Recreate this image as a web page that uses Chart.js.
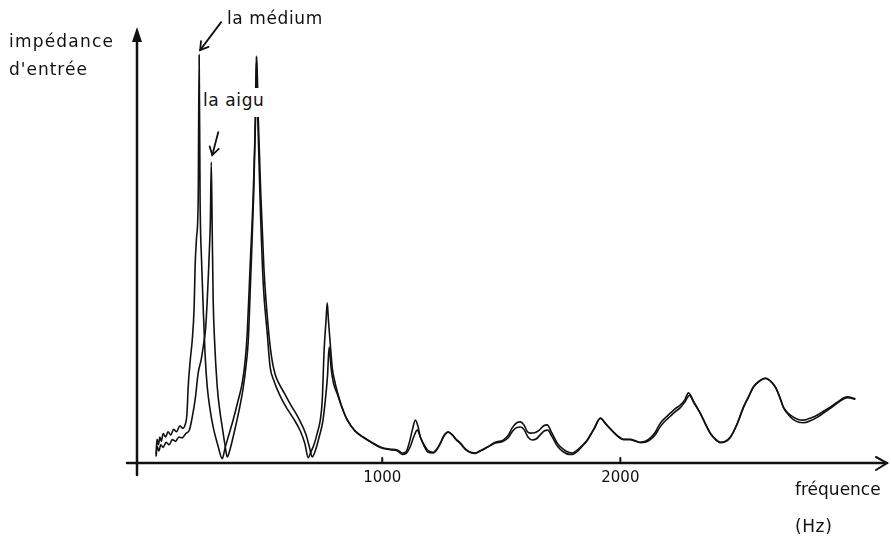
<!DOCTYPE html>
<html>
<head>
<meta charset="utf-8">
<script src="https://cdn.jsdelivr.net/npm/chart.js@4.4.1/dist/chart.umd.min.js"></script>
<style>
  html, body { margin: 0; padding: 0; background: #fff; }
  #wrap { position: relative; width: 891px; height: 540px; overflow: hidden; }
  canvas { position: absolute; left: 0; top: 0; }
  .lbl { position: absolute; font-family: "DejaVu Sans", sans-serif; font-size: 17px; letter-spacing: 0.6px; color: #111; white-space: nowrap; line-height: 1; }
</style>
</head>
<body>
<div id="wrap">
  <canvas id="c" width="891" height="540"></canvas>
  <div class="lbl" id="ytitle1" style="left:9px; top:33px; letter-spacing:1.2px;">impédance</div>
  <div class="lbl" id="ytitle2" style="left:9px; top:61px; letter-spacing:1px;">d'entrée</div>
  <div class="lbl" id="annMed" style="left:227px; top:10px;">la médium</div>
  <div class="lbl" id="annAigu" style="left:201px; top:88px; padding:4px 2px 8px 2px; background:#fff;">la aigu</div>
  <div class="lbl" id="xtitle1" style="left:795px; top:481px; letter-spacing:0px;">fréquence</div>
  <div class="lbl" id="xtitle2" style="left:795px; top:518px;">(Hz)</div>
</div>
<script>
// Frequencies (Hz) and input impedance (arbitrary units) for the two curves
const freqMedium = [50,54,60,66,72,80,90,100,112,124,136,150,162,172,180,185,194,202,210,214,220,227,231,235,241,248,256,265,278,290,310,328,340,353,374,395,412,425,433,445,458,467,471,477,487,500,517,529,545,559,580,601,630,655,675,689,700,715,727,740,748,756,764,769,774,781,790,800,811,830,853,885,920,955,992,1030,1063,1084,1100,1115,1128,1139,1150,1160,1172,1190,1214,1230,1244,1260,1277,1295,1310,1328,1350,1375,1391,1410,1441,1475,1508,1530,1546,1565,1580,1595,1610,1622,1640,1660,1678,1693,1710,1735,1760,1785,1798,1815,1840,1861,1890,1916,1940,1971,1990,2013,2042,2060,2084,2105,2126,2145,2168,2190,2210,2232,2252,2270,2286,2310,2336,2358,2378,2400,2420,2440,2462,2490,2517,2540,2559,2585,2609,2630,2651,2670,2685,2705,2727,2750,2769,2800,2828,2855,2882,2910,2937,2955,2966,2987];
const impMedium = [2.0,5.5,4.2,6.0,5.0,6.8,6.0,7.2,6.5,7.8,7.2,8.6,8.0,8.8,11.5,17.6,24.0,28.4,36.0,45.3,52.0,60.7,94.2,60.7,47.0,36.0,25.0,17.6,12.0,8.3,4.0,1.0,3.5,6.0,10.0,14.5,18.5,24.0,30.0,45.3,62.0,80.0,94.0,80.0,60.7,41.6,30.0,22.2,19.0,17.0,14.5,12.5,10.0,7.5,4.5,1.2,2.5,4.5,6.9,10.0,14.5,26.1,33.0,37.0,33.0,28.0,22.0,19.0,16.5,13.0,9.9,7.5,6.0,4.8,3.7,3.2,3.0,2.3,2.6,5.0,8.0,9.9,8.5,6.0,4.6,3.0,2.5,3.3,4.6,6.4,7.2,6.5,5.5,4.6,3.2,2.4,2.3,2.8,3.7,4.8,5.3,6.5,8.1,9.3,9.5,8.8,7.2,6.9,7.0,7.6,8.6,8.8,7.2,4.6,3.2,2.4,2.3,2.8,4.0,5.3,8.0,10.4,9.0,7.2,6.2,5.5,5.5,5.2,4.8,5.0,5.8,7.0,9.2,10.5,11.5,12.6,13.4,14.5,16.2,14.0,11.5,9.0,6.9,5.5,4.8,5.0,6.0,9.0,12.9,15.5,17.6,19.0,19.6,19.0,17.6,15.2,12.9,11.5,10.6,10.0,9.9,10.4,11.1,12.0,12.9,14.0,15.0,15.3,15.2,14.8];

const freqAigu = [50,55,62,70,80,92,105,118,132,146,160,175,190,202,215,227,240,248,258,265,271,274,278,282,286,290,296,307,318,328,340,349,360,380,400,415,428,437,447,460,468,473,479,490,503,520,535,550,565,590,615,650,680,695,706,720,735,750,760,770,777,785,795,811,830,853,885,920,955,992,1030,1063,1084,1100,1118,1132,1147,1160,1175,1190,1214,1230,1244,1260,1277,1295,1310,1328,1350,1375,1391,1410,1441,1475,1508,1530,1548,1565,1582,1597,1612,1630,1648,1665,1680,1695,1712,1737,1760,1785,1800,1818,1840,1861,1890,1916,1940,1971,1990,2013,2042,2060,2084,2105,2126,2145,2168,2190,2210,2232,2252,2270,2290,2310,2336,2358,2378,2400,2420,2440,2462,2490,2517,2540,2559,2585,2609,2630,2651,2670,2685,2705,2727,2750,2769,2800,2828,2855,2882,2910,2937,2955,2966,2987];
const impAigu = [1.5,3.8,2.8,4.2,3.6,4.8,4.2,5.4,5.0,6.0,5.8,6.8,7.6,10.6,15.0,20.8,24.0,26.8,31.0,37.6,45.0,49.2,55.4,69.5,53.1,37.6,28.0,17.6,12.0,8.3,4.0,1.4,3.0,7.5,12.5,17.0,22.5,28.0,42.0,62.0,80.0,93.8,80.0,62.0,45.0,32.0,24.5,20.5,18.5,16.0,13.5,10.2,6.5,3.5,1.4,3.0,6.0,9.5,14.0,20.0,26.8,22.0,18.5,16.0,13.0,10.0,7.4,5.9,4.7,3.6,3.1,2.8,2.0,2.2,3.8,6.0,7.6,6.0,4.0,2.6,2.3,3.1,4.5,6.3,7.1,6.4,5.4,4.5,3.1,2.3,2.2,2.7,3.6,4.6,5.0,5.9,7.4,8.2,8.3,7.6,6.0,5.3,5.6,6.6,7.4,7.6,6.2,3.8,2.6,2.0,2.0,2.6,3.9,5.2,7.9,10.3,8.9,7.1,6.1,5.4,5.4,5.1,4.7,4.8,5.4,6.4,8.4,9.8,10.8,11.9,12.8,14.0,15.6,13.8,11.4,8.9,6.8,5.4,4.7,4.9,5.9,8.9,12.8,15.4,17.5,18.9,19.5,18.9,17.5,15.1,12.8,11.2,10.0,9.4,9.3,9.8,10.6,11.6,12.6,13.8,14.8,15.1,15.0,14.7];

const xTickValues = [1000, 2000];
const xTickLabels = ["1000", "2000"];

const toPts = (xs, ys) => xs.map((x, i) => ({ x: x, y: ys[i] }));

function peakIndex(arr, maxIdx) {
  let best = 0;
  for (let i = 0; i < maxIdx; i++) if (arr[i] > arr[best]) best = i;
  return best;
}

const decor = {
  id: 'decor',
  afterDraw(chart) {
    const ctx = chart.ctx;
    const a = chart.chartArea;
    const xs = chart.scales.x;
    ctx.save();
    ctx.strokeStyle = '#111';
    ctx.fillStyle = '#111';
    ctx.lineCap = 'round';
    // x axis
    ctx.lineWidth = 2.5;
    ctx.beginPath();
    ctx.moveTo(a.left - 10, a.bottom);
    ctx.lineTo(a.right, a.bottom);
    ctx.stroke();
    ctx.lineWidth = 2;
    ctx.beginPath();
    ctx.moveTo(a.right - 11, a.bottom - 6);
    ctx.lineTo(a.right, a.bottom);
    ctx.lineTo(a.right - 11, a.bottom + 7);
    ctx.stroke();
    // y axis
    ctx.lineWidth = 2.5;
    ctx.beginPath();
    ctx.moveTo(a.left, a.bottom + 12);
    ctx.lineTo(a.left, a.top + 4);
    ctx.stroke();
    ctx.beginPath();
    ctx.moveTo(a.left, a.top - 3);
    ctx.lineTo(a.left - 5, a.top + 12);
    ctx.lineTo(a.left + 5, a.top + 12);
    ctx.closePath();
    ctx.fill();
    // tick marks
    ctx.lineWidth = 2;
    xTickValues.forEach(v => {
      const px = xs.getPixelForValue(v);
      ctx.beginPath();
      ctx.moveTo(px, a.bottom - 5);
      ctx.lineTo(px, a.bottom);
      ctx.stroke();
    });
    // annotation arrows pointing to the peaks
    const arrow = (tx, ty, fx, fy) => {
      ctx.lineWidth = 1.8;
      ctx.beginPath();
      ctx.moveTo(fx, fy);
      ctx.lineTo(tx, ty);
      ctx.stroke();
      const ang = Math.atan2(ty - fy, tx - fx);
      const L = 9;
      ctx.beginPath();
      ctx.moveTo(tx - L * Math.cos(ang - 0.55), ty - L * Math.sin(ang - 0.55));
      ctx.lineTo(tx, ty);
      ctx.lineTo(tx - L * Math.cos(ang + 0.55), ty - L * Math.sin(ang + 0.55));
      ctx.stroke();
    };
    const m0 = chart.getDatasetMeta(0).data[peakIndex(impMedium, 30)];
    arrow(m0.x + 1, m0.y - 5, m0.x + 22, m0.y - 33);
    const m1 = chart.getDatasetMeta(1).data[peakIndex(impAigu, 30)];
    arrow(m1.x + 1, m1.y - 7, m1.x + 7, m1.y - 30);
    ctx.restore();
  }
};

new Chart(document.getElementById('c'), {
  type: 'line',
  data: {
    datasets: [
      { label: 'la médium', data: toPts(freqMedium, impMedium), borderColor: '#111', borderWidth: 1.6, pointRadius: 0, cubicInterpolationMode: 'monotone', fill: false },
      { label: 'la aigu', data: toPts(freqAigu, impAigu), borderColor: '#111', borderWidth: 1.6, pointRadius: 0, cubicInterpolationMode: 'monotone', fill: false }
    ]
  },
  options: {
    responsive: false,
    animation: false,
    layout: { padding: { left: 137, top: 30, right: 4, bottom: 0 } },
    plugins: { legend: { display: false }, tooltip: { enabled: false } },
    scales: {
      x: {
        type: 'linear',
        min: -30,
        max: 3120,
        grid: { display: false, drawTicks: false },
        border: { display: false },
        afterBuildTicks: (s) => { s.ticks = xTickValues.map(v => ({ value: v })); },
        afterFit: (s) => { s.height = 77; },
        ticks: {
          padding: 6,
          color: '#111',
          font: { family: 'DejaVu Sans', size: 15 },
          maxRotation: 0,
          callback: (v) => { const i = xTickValues.indexOf(v); return i >= 0 ? xTickLabels[i] : ''; }
        }
      },
      y: {
        display: false,
        min: 0,
        max: 100
      }
    }
  },
  plugins: [decor]
});
</script>
</body>
</html>
